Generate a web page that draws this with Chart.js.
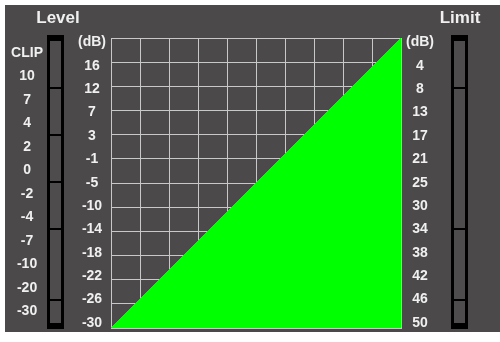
<html>
<head>
<meta charset="UTF-8">
<script src="https://cdn.jsdelivr.net/npm/chart.js"></script>
<style>
  body { margin: 0; background: #fff; }
  canvas { display: block; }
</style>
</head>
<body>
<canvas id="curve" width="500" height="342"></canvas>
<script>
// meter and axis labels, listed bottom to top
const levelLabels = ['-30', '-20', '-10', '-7', '-4', '-2', '0', '2', '4', '7', '10', 'CLIP'];
const inputLabels = ['-30', '-26', '-22', '-18', '-14', '-10', '-5', '-1', '3', '7', '12', '16', '(dB)'];
const limitLabels = ['50', '46', '42', '38', '34', '30', '25', '21', '17', '13', '8', '4', '(dB)'];

// transfer curve, in grid steps (10 columns x 12 rows)
const curveX = [0, 10];
const curveY = [0, 12];

// segment breaks on each meter, in level-label steps
const levelBreaks = [9.5, 7.5, 5.5, 3.5, 0.5];
const limitBreaks = [9.5, 3.5, 0.5];

const BG = '#4b4949';
const GRID = '#c8c8c8';
const TEXT = '#f0f0f0';

Chart.defaults.font.family = '"Liberation Sans", Arial, sans-serif';
Chart.defaults.font.weight = 'bold';
Chart.defaults.font.size = 14;
Chart.defaults.color = TEXT;

function fixedTicks(labels) {
  return function (scale) {
    scale.ticks = labels.map((_, i) => ({ value: i }));
  };
}

// force an axis width and stop its labels from pushing the plot inward
function sized(w) {
  return function (s) {
    s.width = w;
    s.paddingTop = 0;
    s.paddingBottom = 0;
  };
}

const panel = {
  id: 'panel',
  beforeDraw(chart) {
    const c = chart.ctx;
    c.save();
    c.fillStyle = '#ffffff';
    c.fillRect(0, 0, chart.width, chart.height);
    c.fillStyle = BG;
    c.fillRect(5, 5, chart.width - 5, 327);
    c.restore();
  },
  afterDraw(chart) {
    const c = chart.ctx;
    const lv = chart.scales.level;
    function meter(x, breaks) {
      c.fillStyle = '#000';
      c.fillRect(x, 35, 17, 294);
      c.fillStyle = '#4e4c4c';
      c.fillRect(x + 3, 41, 11, 282);
      c.fillStyle = '#000';
      breaks.forEach(b => {
        const y = Math.round(lv.getPixelForValue(b));
        c.fillRect(x + 3, y - 1, 11, 2);
      });
    }
    c.save();
    meter(47, levelBreaks);
    meter(451, limitBreaks);
    c.fillStyle = TEXT;
    c.font = 'bold 17px "Liberation Sans", Arial, sans-serif';
    c.textAlign = 'center';
    c.textBaseline = 'middle';
    c.fillText('Level', 58, 18);
    c.fillText('Limit', 460, 18);
    c.restore();
  }
};

new Chart(document.getElementById('curve'), {
  type: 'line',
  data: {
    datasets: [{
      data: curveX.map((x, i) => ({ x: x, y: curveY[i] })),
      xAxisID: 'x',
      yAxisID: 'y',
      fill: 'start',
      backgroundColor: '#00ff00',
      borderColor: '#00ff00',
      borderWidth: 1,
      pointRadius: 0
    }]
  },
  options: {
    responsive: false,
    animation: false,
    devicePixelRatio: 1,
    layout: { padding: { left: 5, right: 59, top: 38, bottom: 14 } },
    plugins: { legend: { display: false }, tooltip: { enabled: false } },
    scales: {
      x: {
        type: 'linear', min: 0, max: 10,
        ticks: { display: false, stepSize: 1 },
        grid: { color: GRID, drawTicks: false },
        border: { color: GRID },
        afterFit: s => { s.height = 0; s.paddingLeft = 0; s.paddingRight = 0; }
      },
      y: {
        type: 'linear', position: 'left', weight: 0, min: 0, max: 12,
        ticks: { display: false, stepSize: 1 },
        grid: { color: GRID, drawTicks: false },
        border: { color: GRID },
        afterFit: sized(0)
      },
      yL: {
        type: 'linear', position: 'left', weight: 1, min: -0.214, max: 12.192,
        afterBuildTicks: fixedTicks(inputLabels),
        ticks: { padding: 5, crossAlign: 'center', callback: v => inputLabels[v] },
        grid: { display: false, drawTicks: false },
        border: { display: false },
        afterFit: sized(45)
      },
      level: {
        type: 'linear', position: 'left', weight: 2, min: -0.702, max: 11.638,
        afterBuildTicks: fixedTicks(levelLabels),
        ticks: { padding: 23, crossAlign: 'center', callback: v => levelLabels[v] },
        grid: { display: false, drawTicks: false },
        border: { display: false },
        afterFit: sized(61)
      },
      yR: {
        type: 'linear', position: 'right', min: -0.214, max: 12.192,
        afterBuildTicks: fixedTicks(limitLabels),
        ticks: { padding: 5, crossAlign: 'center', callback: v => limitLabels[v] },
        grid: { display: false, drawTicks: false },
        border: { display: false },
        afterFit: sized(40)
      }
    }
  },
  plugins: [panel]
});
</script>
</body>
</html>
